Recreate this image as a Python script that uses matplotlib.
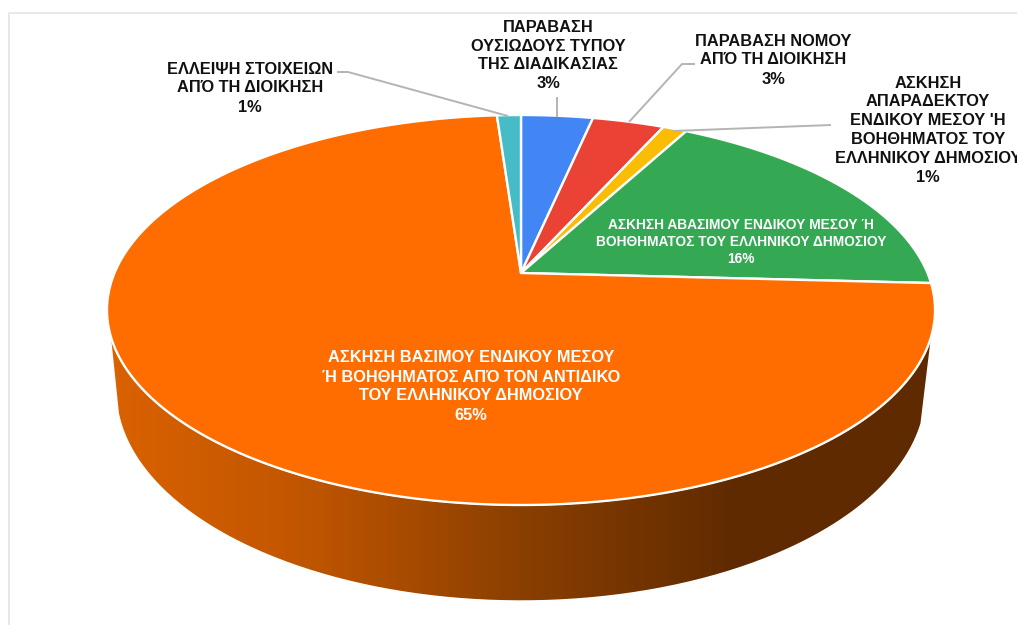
import numpy as np
import matplotlib
matplotlib.use("Agg")
import matplotlib.pyplot as plt
from matplotlib.colors import LinearSegmentedColormap
from matplotlib.patches import PathPatch
from matplotlib.path import Path

categories = [
    "ΠΑΡΑΒΑΣΗ\nΟΥΣΙΩΔΟΥΣ ΤΥΠΟΥ\nΤΗΣ ΔΙΑΔΙΚΑΣΙΑΣ",
    "ΠΑΡΑΒΑΣΗ ΝΟΜΟΥ\nΑΠΌ ΤΗ ΔΙΟΙΚΗΣΗ",
    "ΑΣΚΗΣΗ\nΑΠΑΡΑΔΕΚΤΟΥ\nΕΝΔΙΚΟΥ ΜΕΣΟΥ 'Η\nΒΟΗΘΗΜΑΤΟΣ ΤΟΥ\nΕΛΛΗΝΙΚΟΥ ΔΗΜΟΣΙΟΥ",
    "ΑΣΚΗΣΗ ΑΒΑΣΙΜΟΥ ΕΝΔΙΚΟΥ ΜΕΣΟΥ Ή\nΒΟΗΘΗΜΑΤΟΣ ΤΟΥ ΕΛΛΗΝΙΚΟΥ ΔΗΜΟΣΙΟΥ",
    "ΑΣΚΗΣΗ ΒΑΣΙΜΟΥ ΕΝΔΙΚΟΥ ΜΕΣΟΥ\nΉ ΒΟΗΘΗΜΑΤΟΣ ΑΠΌ ΤΟΝ ΑΝΤΙΔΙΚΟ\nΤΟΥ ΕΛΛΗΝΙΚΟΥ ΔΗΜΟΣΙΟΥ",
    "ΕΛΛΕΙΨΗ ΣΤΟΙΧΕΙΩΝ\nΑΠΌ ΤΗ ΔΙΟΙΚΗΣΗ",
]
values = [3, 3, 1, 16, 65, 1]
colors = ["#4285F4", "#EA4335", "#FBBC04", "#34A853", "#FF6D01", "#46BDC6"]
label_x = [548, 773, 928, 741, 471, 250]
label_top = [27.5, 41, 83, 225, 358, 69]
label_size = [11.8, 11.8, 11.8, 9.9, 11.8, 11.8]
label_pitch = [18.7, 19, 18.8, 17, 19, 19]
label_color = ["#111111", "#111111", "#111111", "white", "white", "#111111"]
leaders = [
    [(557, 97), (557, 117)],
    [(695, 64), (682, 64), (629, 122)],
    [(831, 125), (673, 131)],
    None, None,
    [(337, 72), (348, 72), (508, 116)],
]

W, H = 1017, 625
fig = plt.figure(figsize=(W / 100, H / 100), dpi=100, facecolor="white")
ax = fig.add_axes([0, 0, 1, 1])
ax.set_xlim(0, W)
ax.set_ylim(H, 0)
ax.axis("off")

# Chart frame
ax.plot([8.5, 8.5, W], [H, 12.5, 12.5], color="#e2e2e2", lw=1.1, zorder=1)

# Perspective mapping of the unit disc on the screen
cx, ky, rx_k = 521.0, 273.0, 406.5
c, a = 0.18974, -136.18


def project(theta):
    u, v = np.sin(theta), np.cos(theta)
    w = 1 + c * v
    return cx + rx_k * u * np.ones_like(v) / w, (a * v + ky) / w


# Side wall: between the front arc of the top face and a lower, narrower arc
t_top = np.linspace(0, np.pi, 240)
top_x, top_y = 521 - 414 * np.cos(t_top), 310 + 195 * np.sin(t_top)
keep = top_y >= 331
top_x, top_y = top_x[keep], top_y[keep]
t_bot = np.linspace(np.pi - 0.155, 0.105, 240)
bot_x, bot_y = 521 - 405 * np.cos(t_bot), 391 + 210 * np.sin(t_bot)
side = np.column_stack([np.r_[top_x, bot_x], np.r_[top_y, bot_y]])
side = np.vstack([side, side[0]])
shade = LinearSegmentedColormap.from_list(
    "side", ["#DB6200", "#C15600", "#8A3F00", "#5F2A00", "#5F2A00"], N=256)
grad = np.array([np.interp(np.arange(100, 941), [100, 300, 521, 740, 941],
                           [0, .25, .5, .75, 1])])
im = ax.imshow(grad, cmap=shade, vmin=0, vmax=1, aspect="auto",
               extent=(100, 941, 610, 300), zorder=2)
ax.set_xlim(0, W)
ax.set_ylim(H, 0)
outline = PathPatch(Path(side), fc="none", ec="white", lw=1.0, transform=ax.transData, zorder=3)
ax.add_patch(outline)
im.set_clip_path(outline)

# Top face slices
edges = np.r_[0, np.cumsum(values)] / np.sum(values) * 2 * np.pi
for i, col in enumerate(colors):
    th = np.linspace(edges[i], edges[i + 1], max(int((edges[i + 1] - edges[i]) * 80), 8))
    x, y = project(th)
    ax.fill(np.r_[cx, x], np.r_[ky, y], facecolor=col, edgecolor="white",
            lw=1.7, joinstyle="round", zorder=4)

# Leader lines
for pts in leaders:
    if pts:
        xs, ys = zip(*pts)
        ax.plot(xs, ys, color="#b4b4b4", lw=1.4, zorder=5, solid_capstyle="butt")

# Labels
for name, val, x, y, fs, pitch, tc in zip(categories, values, label_x, label_top,
                                          label_size, label_pitch, label_color):
    for j, line in enumerate(name.split("\n") + [f"{val}%"]):
        ax.text(x, y + j * pitch, line, ha="center", va="center", fontsize=fs,
                fontweight="bold", family="Liberation Sans", color=tc, zorder=6)

fig.savefig("out.png", dpi=100, facecolor="white")
